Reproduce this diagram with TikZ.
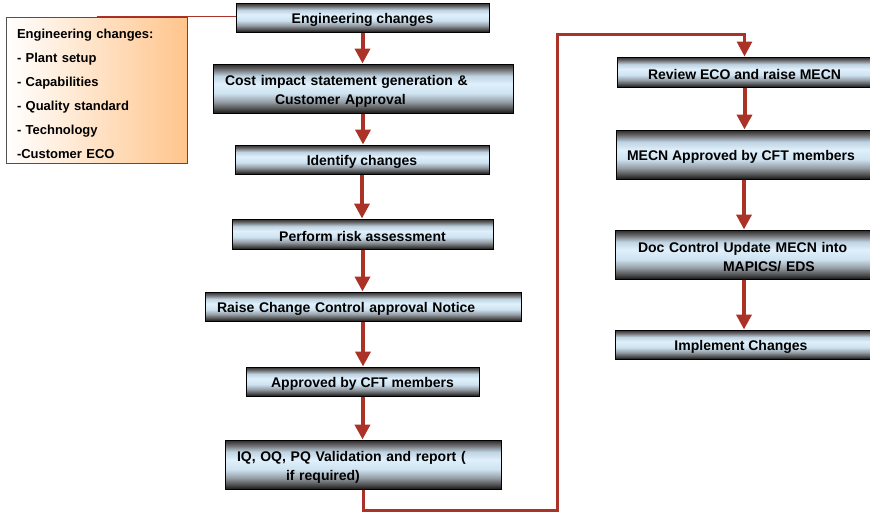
\documentclass[tikz,border=0pt]{standalone}
\usepackage{fontspec}
\setmainfont{Liberation Sans}
\usetikzlibrary{arrows.meta}

\definecolor{flowred}{RGB}{170,50,38}
\definecolor{notebrd}{RGB}{80,80,80}
\definecolor{noteorange}{RGB}{255,197,140}
\definecolor{cylA}{RGB}{25,25,25}
\definecolor{cylB}{RGB}{80,80,80}
\definecolor{cylC}{RGB}{150,158,166}
\definecolor{cylD}{RGB}{205,226,240}
\definecolor{cylE}{RGB}{224,240,251}
\definecolor{cylF}{RGB}{190,210,225}
\definecolor{cylG}{RGB}{110,110,113}
\definecolor{cylH}{RGB}{40,40,40}

% metallic tube fill of the process boxes; TikZ maps the box onto 25bp..75bp
\pgfdeclareverticalshading{tube}{100bp}{%
  color(0bp)=(cylA); color(25bp)=(cylA); color(29.5bp)=(cylB);
  color(36.5bp)=(cylC); color(45bp)=(cylD); color(55bp)=(cylE);
  color(63bp)=(cylF); color(69.5bp)=(cylG); color(75bp)=(cylH);
  color(100bp)=(cylH)}

\tikzset{
  procbox/.style={draw=black, line width=1pt, shading=tube, inner sep=0pt,
    font=\bfseries\fontsize{14}{19}\selectfont, align=center,
    execute at begin node={\rule{0pt}{15pt}}},
  flow/.style={draw=flowred, line width=4pt,
    -{Triangle[width=15pt,length=15pt]}},
  loopflow/.style={flow, line width=3pt},
  notebox/.style={draw=notebrd, line width=1pt, left color=white,
    right color=noteorange, inner xsep=11pt, inner ysep=0pt,
    font=\bfseries\fontsize{13}{24}\selectfont, align=left}
}

\begin{document}
\begin{tikzpicture}[x=1pt, y=-1pt]
\useasboundingbox (0,0) rectangle (870,512);

% side note listing the kinds of change
\node[notebox, text width=159pt, minimum height=146pt] (note) at (96.5,90)
  {\rule{0pt}{17.5pt}Engineering changes:\\
   - Plant setup\\
   - Capabilities\\
   - Quality standard\\
   - Technology\\
   -Customer ECO};

% left column
\node[procbox, minimum width=253pt, minimum height=29pt] (eng) at (362.5,17.5)
  {Engineering changes};
\node[procbox, text width=300pt, minimum height=49pt, align=left] (cost) at (363,88.5)
  {\hspace*{12pt}Cost impact statement generation \&\\
   \hspace*{62pt}Customer Approval};
\node[procbox, minimum width=254pt, minimum height=29pt] (ident) at (362,159.5)
  {Identify changes};
\node[procbox, minimum width=261pt, minimum height=30pt] (risk) at (362.5,234)
  {Perform risk assessment};
\node[procbox, text width=316pt, minimum height=29pt, align=left] (raise) at (363,306.5)
  {\hspace*{12pt}Raise Change Control approval Notice};
\node[procbox, minimum width=233pt, minimum height=29pt] (appr) at (362.5,381.5)
  {Approved by CFT members};
\node[procbox, text width=276pt, minimum height=49pt, align=left] (iq) at (363,464.5)
  {\hspace*{12pt}IQ, OQ, PQ Validation and report (\\
   \hspace*{61pt}if required)};

% right column
\node[procbox, minimum width=255pt, minimum height=30pt] (review) at (744.5,72)
  {Review ECO and raise MECN};
\node[procbox, minimum width=256pt, minimum height=49pt] (mecn) at (744,154.5)
  {MECN Approved by CFT members\hspace*{6pt}};
\node[procbox, text width=258pt, minimum height=49pt, align=left] (doc) at (744,254.5)
  {\hspace*{23pt}Doc Control Update MECN into\\
   \hspace*{108pt}MAPICS/ EDS};
\node[procbox, minimum width=258pt, minimum height=29pt] (impl) at (744,344.5)
  {Implement Changes\hspace*{6pt}};

% note tie line
\draw[flowred, line width=1pt] (note.north) -- (eng.west |- note.north);

% left column flow
\foreach \a/\b in {eng/cost, cost/ident, ident/risk, risk/raise, raise/appr, appr/iq}
  \draw[flow] (\a.south) -- (\a.south |- \b.north);

% right column flow
\foreach \a/\b in {review/mecn, mecn/doc, doc/impl}
  \draw[flow] (\a.south) -- (\a.south |- \b.north);

% return path from the validation step to the MECN review
\coordinate (lowturn) at (557,510);
\coordinate (highturn) at (557,34);
\draw[loopflow] (iq.south) |- (lowturn) -- (highturn) -| (review.north);
\end{tikzpicture}
\end{document}
